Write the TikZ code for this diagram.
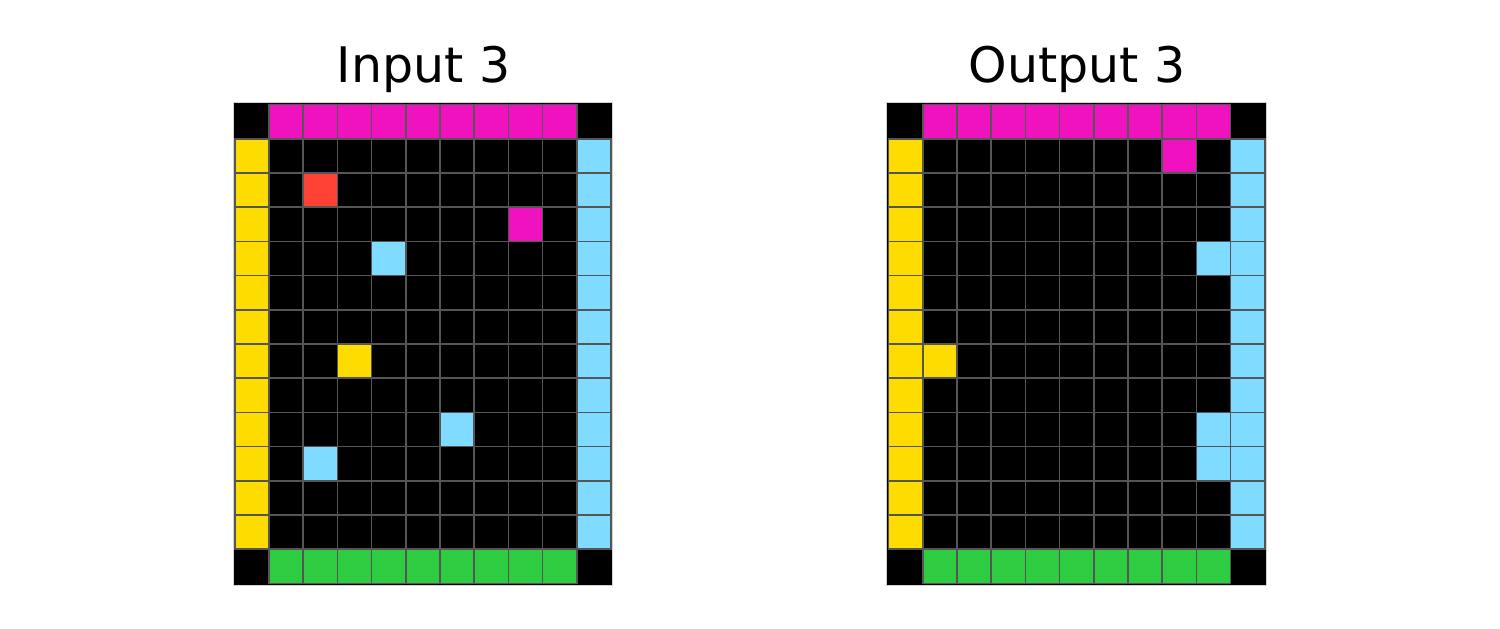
\documentclass[tikz,border=0pt]{standalone}
\usepackage{fontspec}
\setmainfont{DejaVu Sans}
\definecolor{arcmag}{HTML}{F012BE}
\definecolor{arcyel}{HTML}{FFDC00}
\definecolor{arcblu}{HTML}{7FDBFF}
\definecolor{arcred}{HTML}{FF4136}
\definecolor{arcgrn}{HTML}{2ECC40}
\definecolor{gridgray}{HTML}{555555}
\newcommand\cs{34.2}
\newcommand\arccell[3]{\fill[#3,draw=gridgray,line width=1.6] ({#1*\cs},{#2*\cs}) rectangle ({(#1+1)*\cs},{(#2+1)*\cs});}
\newcommand\arcframe{%
  \fill[black,draw=gray!35,line width=0.8] (-1.8,-1.8) rectangle ({11*\cs+1.8},{14*\cs+1.8});
  \foreach \i in {1,...,10} {\draw[gridgray,line width=1.6] ({\i*\cs},0) -- ({\i*\cs},{14*\cs});}
  \foreach \j in {1,...,13} {\draw[gridgray,line width=1.6] (0,{\j*\cs}) -- ({11*\cs},{\j*\cs});}
  \foreach \c in {1,...,9} {\arccell{\c}{0}{arcmag}\arccell{\c}{13}{arcgrn}}
  \foreach \r in {1,...,12} {\arccell{0}{\r}{arcyel}\arccell{10}{\r}{arcblu}}
}
\tikzset{title/.style={font=\fontsize{49}{58}\selectfont, anchor=base}}
\begin{document}
\begin{tikzpicture}[x=1pt,y=-1pt]
\useasboundingbox[fill=white] (0,0) rectangle (1500,629);
% Input grid
\begin{scope}[shift={(234.8,104.6)}]
  \arcframe
  \arccell{2}{2}{arcred}
  \arccell{8}{3}{arcmag}
  \arccell{4}{4}{arcblu}
  \arccell{3}{7}{arcyel}
  \arccell{6}{9}{arcblu}
  \arccell{2}{10}{arcblu}
\end{scope}
% Output grid
\begin{scope}[shift={(888.5,104.6)}]
  \arcframe
  \arccell{8}{1}{arcmag}
  \arccell{9}{4}{arcblu}
  \arccell{1}{7}{arcyel}
  \arccell{9}{9}{arcblu}
  \arccell{9}{10}{arcblu}
\end{scope}
\node[title] (tin) at (423.5,82) {Input 3};
\node[title] (tout) at (1077,82) {Output 3};
\end{tikzpicture}
\end{document}
